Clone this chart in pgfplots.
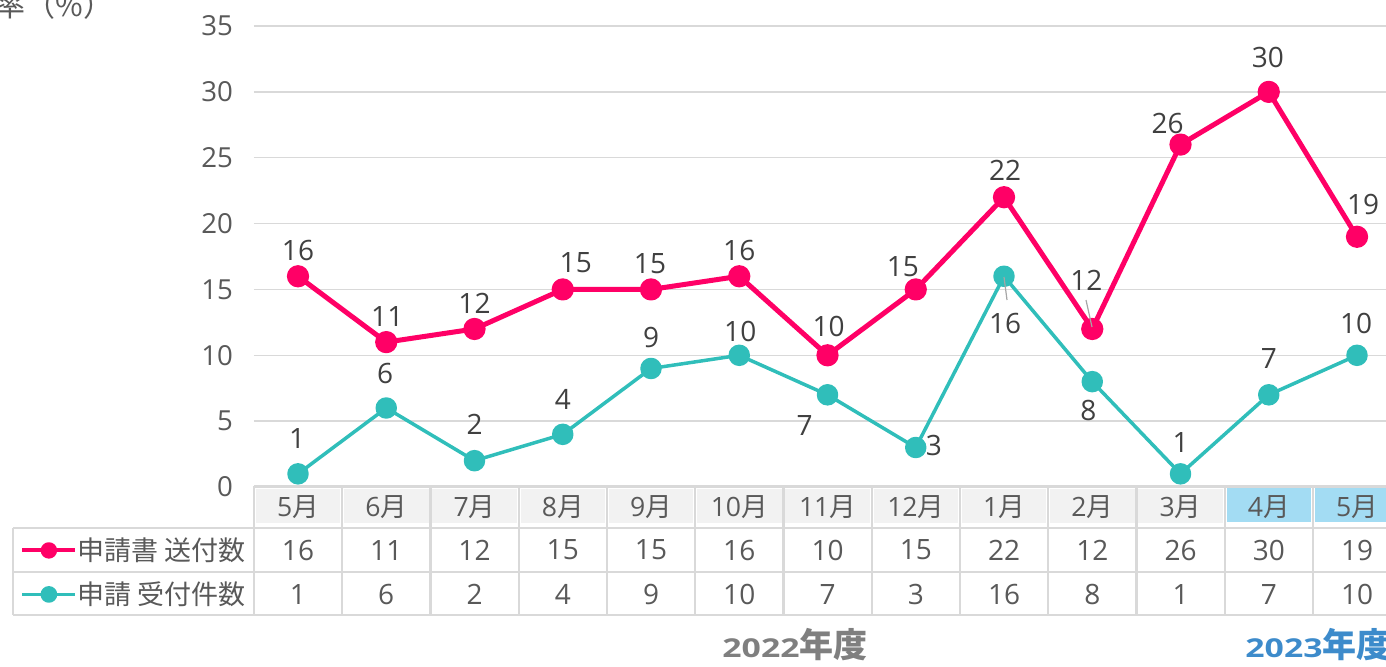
\documentclass[border=0pt]{standalone}
\usepackage{fontspec}
\setmainfont{Open Sans}
\newfontfamily\cjk{Noto Sans CJK JP}
\usepackage{graphicx}
\usepackage{pgfplots}
\pgfplotsset{compat=1.18}
\usepackage{pgfplotstable}

\definecolor{pinkc}{HTML}{FF0066}
\definecolor{tealc}{HTML}{30BEBA}
\definecolor{gridc}{HTML}{D9D9D9}
\definecolor{textc}{HTML}{595959}
\definecolor{labc}{HTML}{404040}
\definecolor{hdrc}{HTML}{F2F2F2}
\definecolor{bluec}{HTML}{A3DCF3}
\definecolor{yeara}{HTML}{7F7F7F}
\definecolor{yearb}{HTML}{3D8BCB}

\pgfplotstableread{
x  pink teal pdx pdy tdx tdy
0  16   1    0   26  -1  35
1  11   6    1   26  -1  34
2  12   2    0   26   0  36
3  15   4    13  27   0  35
4  15   9    -1  26   0  31
5  16   10   0   26   1  24
6  10   7    1   29  -23 -31
7  15   3    -13 23  18  2
8  22   16   1   27   1  -47
9  12   8    -6  49  -4  -29
10 26   1    -13 21   0  31
11 30   7    -1  34   0  36
12 19   10   6   32  -1  32
}\datatable

\begin{document}
\begin{tikzpicture}
\useasboundingbox (0pt,0pt) rectangle (693pt,-333pt);
% header fills
\foreach \i in {0,...,10}{
  \fill[hdrc] ({(127+44.125*\i+0.9)*1pt},-244.5pt) rectangle ({(127+44.125*(\i+1)-0.9)*1pt},-261.5pt);
}
\foreach \i in {11,12}{
  \fill[bluec] ({(127+44.125*\i+0.9)*1pt},-243.5pt) rectangle ({(127+44.125*(\i+1)-0.9)*1pt},-261pt);
}
\begin{axis}[
  at={(126.94pt,-243.5pt)}, anchor=south west,
  scale only axis, width=573.625pt, height=230.5pt,
  xmin=-0.5, xmax=12.5, ymin=0, ymax=35,
  ytick={0,5,...,35},
  xtick={0,...,12},
  xticklabels={5{\cjk 月},6{\cjk 月},7{\cjk 月},8{\cjk 月},9{\cjk 月},10{\cjk 月},11{\cjk 月},12{\cjk 月},1{\cjk 月},2{\cjk 月},3{\cjk 月},4{\cjk 月},5{\cjk 月}},
  axis line style={draw=none},
  major tick style={draw=none},
  ymajorgrids,
  grid style={line width=0.75pt, color=gridc},
  clip=false,
  /pgf/number format/assume math mode=true,
  yticklabel style={font=\fontsize{13.8}{15}\selectfont, text=textc, anchor=east, inner sep=0pt, xshift=-10.3pt},
  xticklabel style={font=\fontsize{13.3}{15}\selectfont, text=textc, anchor=center, inner sep=0pt, yshift=-10pt},
  legend style={draw=none, fill=none, at={(-0.20996,-0.08894)}, anchor=north west,
    inner xsep=3.5pt, inner ysep=0pt, row sep=0pt, column sep=0pt,
    nodes={inner sep=0pt, minimum height=22pt},
    font=\fontsize{13.5}{16}\cjk, text=textc},
  legend cell align=left,
  legend image code/.code={\draw[mark repeat=2,mark phase=2,#1] plot coordinates {(0pt,0pt)(13.25pt,0pt)(26.5pt,0pt)};},
]
\addplot[color=pinkc, line width=2.5pt, line join=round, mark=*, mark size=4.3pt, mark options={draw=none, fill=pinkc},
  legend image post style={line width=2pt, mark size=3.1pt}]
  table[x=x, y=pink] {\datatable};
\addlegendentry{申請書 送付数}
\addplot[color=tealc, line width=1.75pt, line join=round, mark=*, mark size=4.5pt, mark options={draw=none, fill=tealc},
  legend image post style={line width=1.75pt, mark size=3.3pt}]
  table[x=x, y=teal] {\datatable};
\addlegendentry{申請 受付件数}
% point labels
\addplot[draw=none, mark=none, forget plot, nodes near coords, point meta=explicit symbolic,
  visualization depends on={\thisrow{pdx}/2 \as \dx},
  visualization depends on={\thisrow{pdy}/2 \as \dy},
  nodes near coords style={anchor=center, xshift=\dx pt, yshift=\dy pt, font=\fontsize{14}{16}\selectfont, text=labc, inner sep=0pt}]
  table[x=x, y=pink, meta=pink] {\datatable};
\addplot[draw=none, mark=none, forget plot, nodes near coords, point meta=explicit symbolic,
  visualization depends on={\thisrow{tdx}/2 \as \dx},
  visualization depends on={\thisrow{tdy}/2 \as \dy},
  nodes near coords style={anchor=center, xshift=\dx pt, yshift=\dy pt, font=\fontsize{14}{16}\selectfont, text=labc, inner sep=0pt}]
  table[x=x, y=teal, meta=teal] {\datatable};
% table values
\addplot[draw=none, mark=none, forget plot, nodes near coords, point meta=explicit symbolic,
  nodes near coords style={anchor=center, font=\fontsize{14}{16}\selectfont, text=textc, inner sep=0pt}]
  table[x=x, y expr=-4.783, meta=pink] {\datatable};
\addplot[draw=none, mark=none, forget plot, nodes near coords, point meta=explicit symbolic,
  nodes near coords style={anchor=center, font=\fontsize{14}{16}\selectfont, text=textc, inner sep=0pt}]
  table[x=x, y expr=-8.124, meta=teal] {\datatable};
\end{axis}
% table lines
\begin{scope}[gridc, line width=1.2pt]
\foreach \i in {0,...,13}{
  \draw ({(127+44.125*\i)*1pt},-243pt) -- ({(127+44.125*\i)*1pt},-307.5pt);
}
\draw (127pt,-243pt) -- (700pt,-243pt);
\draw (6.5pt,-264pt) -- (700pt,-264pt);
\draw (6.5pt,-286pt) -- (700pt,-286pt);
\draw (6.5pt,-307.5pt) -- (700pt,-307.5pt);
\draw (6.5pt,-264pt) -- (6.5pt,-307.5pt);
\end{scope}
% leader lines
\draw[color=gray!70, line width=0.6pt] (502pt,-138.5pt) -- (503.5pt,-150pt);
\draw[color=gray!70, line width=0.6pt] (543pt,-150pt) -- (546pt,-163.5pt);
% title and year labels
\node[anchor=base east, inner sep=0pt, text=textc, font=\fontsize{15}{17}\cjk] at (57pt,-8pt) {受付率（\%）};
\node[anchor=base, inner sep=0pt, text=yeara, font=\fontsize{17}{19}\cjk\bfseries] at (397.5pt,-328.5pt) {{\fontsize{13}{15}\selectfont\rmfamily\bfseries\scalebox{1.3}[1]{2022}}年度};
\node[anchor=base west, inner sep=0pt, text=yearb, font=\fontsize{17}{19}\cjk\bfseries] at (622.5pt,-328.5pt) {{\fontsize{13}{15}\selectfont\rmfamily\bfseries\scalebox{1.3}[1]{2023}}年度};
\end{tikzpicture}
\end{document}
